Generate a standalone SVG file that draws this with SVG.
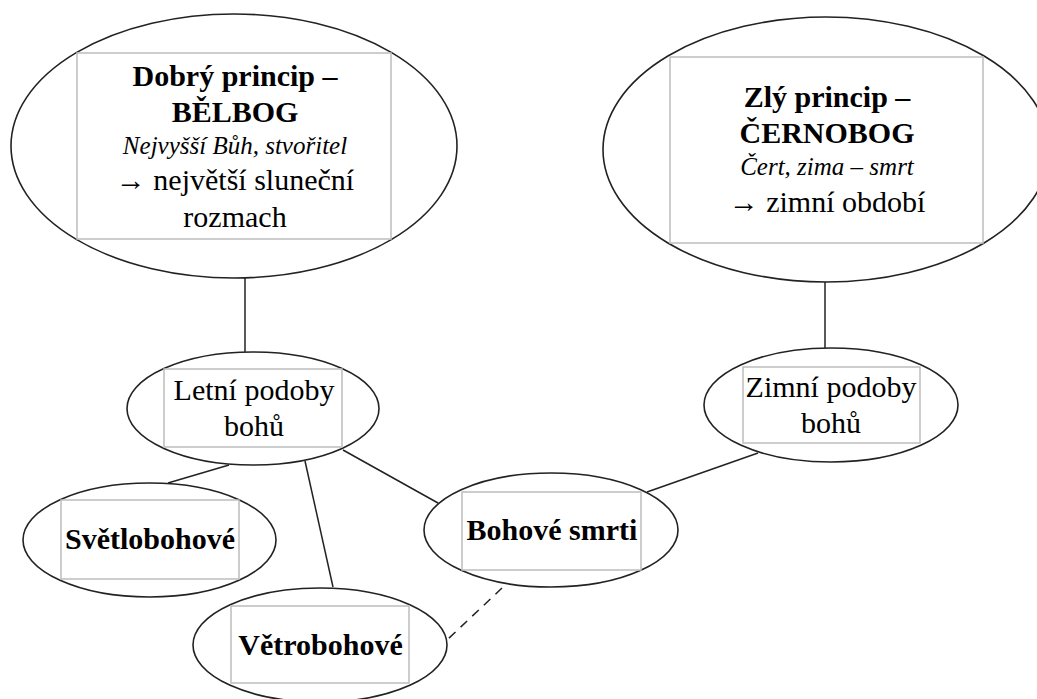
<svg xmlns="http://www.w3.org/2000/svg" width="1037" height="699" viewBox="0 0 1037 699">
<style>
.ell{fill:#fff;stroke:#222;stroke-width:1.6}
.box{fill:#fff;stroke:#bdbdbd;stroke-width:1.5}
.t{font-family:"Liberation Serif","Times New Roman",serif;font-size:30px;fill:#000;text-anchor:middle}
.b{font-weight:bold}
.i{font-style:italic;font-size:25px}
.c{stroke:#222;stroke-width:1.5;fill:none}
.d{stroke-dasharray:9 7}
</style>
<rect width="1037" height="699" fill="#fff"/>
<g id="connectors">
<line class="c" x1="245" y1="278" x2="245" y2="352"/>
<line class="c" x1="825" y1="282" x2="825" y2="348"/>
<line class="c" x1="229" y1="465" x2="168" y2="483"/>
<line class="c" x1="305" y1="461" x2="333" y2="587"/>
<line class="c" x1="343" y1="450" x2="438" y2="503"/>
<line class="c" x1="758" y1="453" x2="647" y2="492"/>
<line class="c d" x1="502" y1="588" x2="447" y2="640"/>
</g>
<g id="belbog">
<ellipse class="ell" cx="234" cy="146" rx="223" ry="132"/>
<rect class="box" x="77" y="53" width="314" height="186"/>
<text class="t b" x="235" y="86">Dobrý princip –</text>
<text class="t b" x="235" y="122">BĚLBOG</text>
<text class="t i" x="235" y="154">Nejvyšší Bůh, stvořitel</text>
<text class="t" x="235" y="190">→ největší sluneční</text>
<text class="t" x="235" y="227">rozmach</text>
</g>
<g id="cernobog">
<ellipse class="ell" cx="826" cy="149.5" rx="223" ry="132.5"/>
<rect class="box" x="670" y="57" width="313" height="186"/>
<text class="t b" x="827" y="107">Zlý princip –</text>
<text class="t b" x="827" y="143">ČERNOBOG</text>
<text class="t i" x="827" y="175">Čert, zima <tspan font-style="normal">–</tspan> smrt</text>
<text class="t" x="827" y="212">→ zimní období</text>
</g>
<g id="letni">
<ellipse class="ell" cx="253" cy="408.5" rx="126" ry="56.5"/>
<rect class="box" x="164" y="369" width="178" height="78"/>
<text class="t" x="254" y="400">Letní podoby</text>
<text class="t" x="254" y="436">bohů</text>
</g>
<g id="zimni">
<ellipse class="ell" cx="831" cy="405" rx="127" ry="57"/>
<rect class="box" x="743" y="367" width="177" height="76"/>
<text class="t" x="831" y="397">Zimní podoby</text>
<text class="t" x="831" y="433">bohů</text>
</g>
<g id="svetlobohove">
<ellipse class="ell" cx="149.5" cy="540" rx="126.5" ry="57"/>
<rect class="box" x="61" y="500" width="178" height="79"/>
<text class="t b" x="150" y="549">Světlobohové</text>
</g>
<g id="smrti">
<ellipse class="ell" cx="551" cy="530" rx="127" ry="57"/>
<rect class="box" x="462" y="492" width="179" height="78"/>
<text class="t b" x="552" y="540">Bohové smrti</text>
</g>
<g id="vetrobohove">
<ellipse class="ell" cx="320" cy="645" rx="127" ry="57"/>
<rect class="box" x="231" y="606" width="178" height="77"/>
<text class="t b" x="320.5" y="655">Větrobohové</text>
</g>
</svg>
